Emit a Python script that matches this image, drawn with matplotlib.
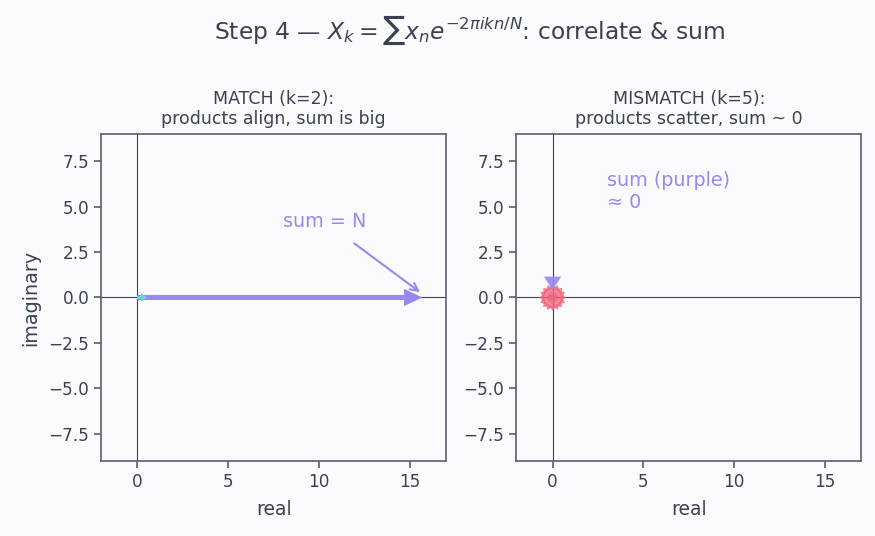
import numpy as np
import matplotlib
matplotlib.use("Agg")
import matplotlib.pyplot as plt

N = 16
k_match = 2
k_mismatch = 5
n = np.arange(N)
signal_freq = 2
x = np.exp(2j * np.pi * signal_freq * n / N)
prod_match = x * np.exp(-2j * np.pi * k_match * n / N)
prod_mismatch = x * np.exp(-2j * np.pi * k_mismatch * n / N)
sum_match = prod_match.sum()
sum_mismatch = prod_mismatch.sum()

BG = "#fbfbfe"
TXT = "#3a4150"
SPINE = "#596070"
PURPLE = "#9b87f0"
CYAN = "#6dd3dc"
RED = "#f0647c"

fig, axes = plt.subplots(1, 2, figsize=(8.75, 5.36), dpi=100, facecolor=BG)
fig.subplots_adjust(left=0.115, right=0.985, top=0.75, bottom=0.14, wspace=0.2)
fig.suptitle(r"Step 4 — $X_k = \sum x_n e^{-2\pi i k n/N}$: correlate & sum",
             fontsize=16.8, color=TXT, x=0.537, y=0.975)

titles = ["MATCH (k=2):\nproducts align, sum is big",
          "MISMATCH (k=5):\nproducts scatter, sum ~ 0"]

for ax, t in zip(axes, titles):
    ax.set_facecolor(BG)
    ax.set_xlim(-2, 17)
    ax.set_ylim(-9, 9)
    ax.set_aspect("equal")
    ax.axhline(0, color=TXT, lw=0.8, zorder=1)
    ax.axvline(0, color=TXT, lw=0.8, zorder=1)
    ax.set_title(t, fontsize=12.5, color=TXT, pad=7, linespacing=1.15)
    ax.set_xlabel("real", fontsize=13.5, color=TXT, labelpad=7)
    ax.set_xticks([0, 5, 10, 15])
    ax.set_yticks([-7.5, -5, -2.5, 0, 2.5, 5, 7.5])
    ax.tick_params(colors=SPINE, labelcolor=TXT, labelsize=12.2, length=5, width=1.2)
    for s in ax.spines.values():
        s.set_color(SPINE)
        s.set_linewidth(1.2)

axes[0].set_ylabel("imaginary", fontsize=13.8, color=TXT, labelpad=6)

# MATCH panel
ax = axes[0]
ax.arrow(0, 0, sum_match.real * 0.98, sum_match.imag, width=0.28, head_width=0.95,
         head_length=1.0, length_includes_head=True, color=PURPLE, zorder=4, lw=0)
for p in prod_match:
    ax.arrow(0, 0, 0.5 * p.real, 0.5 * p.imag, width=0.1, head_width=0.4,
             head_length=0.3, length_includes_head=True, color=CYAN, alpha=0.8, zorder=5, lw=0)
ax.annotate("sum = N", xy=(sum_match.real * 0.98, 0.2), xytext=(8, 3.9),
            color=PURPLE, fontsize=13.8,
            arrowprops=dict(arrowstyle="->", color=PURPLE, lw=1.5, shrinkA=12))

# MISMATCH panel
ax = axes[1]
for p in prod_mismatch:
    ax.arrow(0, 0, 0.74 * p.real, 0.74 * p.imag, width=0.15, head_width=0.45,
             head_length=0.3, length_includes_head=True, color=RED, alpha=0.8, zorder=3, lw=0)
ax.arrow(0, 1.15 + sum_mismatch.imag, sum_mismatch.real, -0.75, width=0.25,
         head_width=0.95, head_length=0.75, length_includes_head=True,
         color=PURPLE, alpha=0.9, zorder=4, lw=0)
ax.text(3, 4.9, "sum (purple)\n≈ 0", color=PURPLE, fontsize=13.8)

fig.savefig("out.png", dpi=100, facecolor=BG)
